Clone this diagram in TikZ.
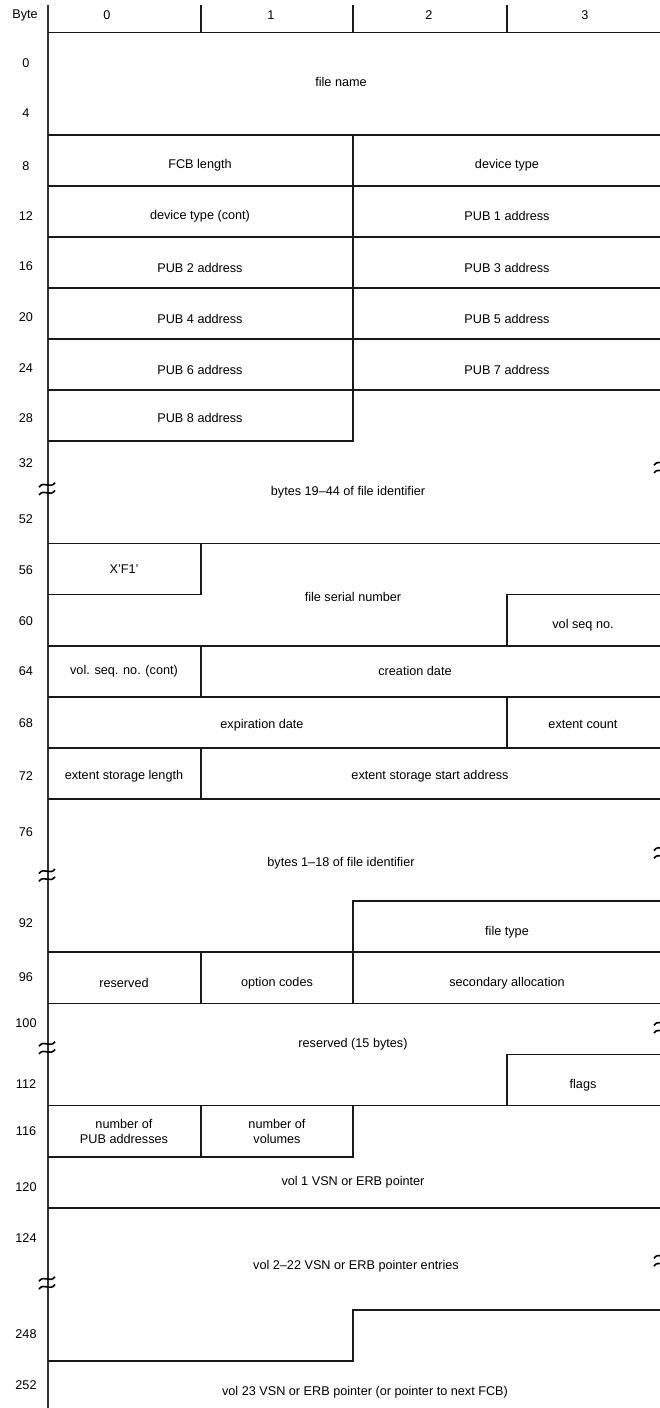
\documentclass[tikz,border=0pt]{standalone}
\usepackage{fontspec}
\setmainfont{Liberation Sans}
\begin{document}
\begin{tikzpicture}[x=0.75pt,y=-38.325pt,
  every node/.style={font=\fontsize{9.5}{11.5}\selectfont, inner sep=0pt, align=center, text=black},
  hl/.style={line width=1.3pt, draw=black!90},
  vl/.style={line width=1.0pt, draw=black!90},
  edge/.style={line width=0.8pt, draw=black!80},
  brkmark/.pic={
    \draw[line width=1.2pt] (-6pt,1.2pt) .. controls (-2.5pt,6.5pt) and (2.5pt,-0.5pt) .. (6pt,4.6pt);
    \draw[line width=1.2pt] (-6pt,-4.6pt) .. controls (-2.5pt,0.5pt) and (2.5pt,-6.5pt) .. (6pt,-1.2pt);
  }]
\useasboundingbox[fill=white] (0,-0.636) rectangle (660,26.918);

% header
\node (hbyte) at (25,-0.34) {Byte};
\node (h0) at (107,-0.34) {0};
\node (h1) at (271,-0.34) {1};
\node (h2) at (429,-0.34) {2};
\node (h3) at (585,-0.34) {3};
\foreach \x in {201,353,507} \draw[vl] (\x,-0.54) -- (\x,0);
\draw[edge] (48,-0.54) -- (48,26.918);

% full-width horizontal lines
\foreach \k in {0,2,3,4,5,6,7,10,12,13,14,15,18,19,21,23}
  \draw[hl] (48,\k) -- (660,\k);

% partial outlines
\draw[vl] (353,2) -- (353,7);
\draw[hl] (353,7) -- (353,8) -- (48,8);
\draw[hl] (201,10) -- (201,11) -- (48,11);
\draw[hl] (660,11) -- (507,11) -- (507,12);
\draw[vl] (201,12) -- (201,13);
\draw[vl] (507,13) -- (507,14);
\draw[hl] (201,14) -- (201,15);
\draw[hl] (660,17) -- (353,17) -- (353,19);
\draw[vl] (201,18) -- (201,19);
\draw[hl] (660,20) -- (507,20) -- (507,21);
\draw[hl] (201,21) -- (201,22);
\draw[hl] (353,21) -- (353,22) -- (48,22);
\draw[hl] (660,25) -- (353,25) -- (353,26) -- (48,26);

% break marks
\foreach \r in {8.93,16.49,19.87,24.47} \pic at (47,\r) {brkmark};
\foreach \r in {8.5,16.04,19.46,24.02} \pic at (662,\r) {brkmark};

% byte offsets
\foreach \lab/\r in {0/0.59,4/1.58,8/2.61,12/3.59,16/4.58,20/5.57,24/6.57,28/7.54,32/8.42,52/9.52,56/10.52,60/11.52,64/12.49,68/13.51,72/14.55,76/15.65,92/17.43,96/18.48,100/19.38,112/20.58,116/21.5,120/22.59,124/23.59,248/25.47,252/26.47}
  \node (off\lab) at (26,\r) {\lab};

% field texts
\node (fname) at (341,0.97) {file name};
\node (fcb) at (200,2.6) {FCB length};
\node (dev) at (507,2.6) {device type};
\node (devc) at (200,3.6) {device type (cont)};
\node (pub1) at (507,3.6) {PUB 1 address};
\node (pub2) at (200,4.6) {PUB 2 address};
\node (pub3) at (507,4.6) {PUB 3 address};
\node (pub4) at (200,5.6) {PUB 4 address};
\node (pub5) at (507,5.6) {PUB 5 address};
\node (pub6) at (200,6.6) {PUB 6 address};
\node (pub7) at (507,6.6) {PUB 7 address};
\node (pub8) at (200,7.55) {PUB 8 address};
\node (fid2) at (348,9.0) {bytes 19--44 of file identifier};
\node (xf1) at (124,10.5) {X'F1'};
\node (fser) at (353,11.05) {file serial number};
\node (vsn) at (583,11.6) {vol seq no.};
\node (vsnc) at (124,12.5) {vol. seq. no. (cont)};
\node (cdate) at (415,12.5) {creation date};
\node (edate) at (262,13.55) {expiration date};
\node (ecount) at (583,13.55) {extent count};
\node (eslen) at (124,14.55) {extent storage length};
\node (esaddr) at (430,14.55) {extent storage start address};
\node (fid1) at (341,16.25) {bytes 1--18 of file identifier};
\node (ftype) at (507,17.6) {file type};
\node (res) at (124,18.6) {reserved};
\node (opt) at (277,18.6) {option codes};
\node (sec) at (507,18.6) {secondary allocation};
\node (res15) at (353,19.8) {reserved (15 bytes)};
\node (flags) at (583,20.6) {flags};
\node (npub) at (124,21.5) {number of\\PUB addresses};
\node (nvol) at (277,21.5) {number of\\volumes};
\node (v1) at (353,22.5) {vol 1 VSN or ERB pointer};
\node (v222) at (356,24.15) {vol 2--22 VSN or ERB pointer entries};
\node (v23) at (365,26.6) {vol 23 VSN or ERB pointer (or pointer to next FCB)};
\end{tikzpicture}
\end{document}
